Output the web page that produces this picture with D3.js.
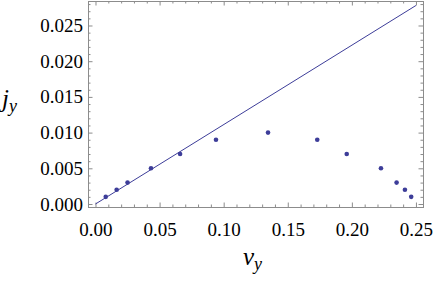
<!DOCTYPE html>
<html><head><meta charset="utf-8">
<script src="https://cdn.jsdelivr.net/npm/d3@7"></script>
</head><body style="margin:0">
<svg id="c" width="436" height="285" style="font-family:'Liberation Serif','Times New Roman',serif"></svg>
<script>
const vy = [0.008, 0.0165, 0.025, 0.0433, 0.066, 0.094, 0.1346, 0.173, 0.196, 0.2227, 0.2349, 0.2414, 0.2463];
const jy = [0.001, 0.002, 0.003, 0.005, 0.007, 0.009, 0.010, 0.009, 0.007, 0.005, 0.003, 0.002, 0.001];
const lineX = [0, 0.25];
const lineY = [0, 0.0278];
const xTicks = [0, 0.05, 0.10, 0.15, 0.20, 0.25];
const yTicks = [0, 0.005, 0.010, 0.015, 0.020, 0.025];

const svg = d3.select("#c");
const L = 88, R = 423, T = 1, B = 207;
const x = d3.scaleLinear().domain([-0.00585, 0.2555]).range([L, R]);
const y = d3.scaleLinear().domain([-0.00042, 0.02843]).range([B, T]);
const col = "#3d3d99", fr = "#8c8c8c";
const serifStack = "'Liberation Serif','Times New Roman',serif";

const xMinor = d3.range(0, 0.2551, 0.01).filter(v => !xTicks.some(t => Math.abs(t - v) < 1e-9));
const yMinor = d3.range(0, 0.02801, 0.001).filter(v => !yTicks.some(t => Math.abs(t - v) < 1e-9));

function ax(gen, tr, major, minor, labels) {
  const g = svg.append("g").attr("transform", tr);
  g.call(gen.tickValues(minor).tickSize(-2.5).tickFormat(""));
  const g2 = svg.append("g").attr("transform", tr);
  g2.call(gen.tickValues(major).tickSize(-4.5).tickFormat(labels ? (d => d) : ""));
  [g, g2].forEach(s => {
    s.attr("font-family", null).style("font-family", serifStack);
    s.selectAll("path").attr("stroke", fr).attr("stroke-width", 1);
    s.selectAll("line").attr("stroke", fr).attr("stroke-width", 1);
  });
  return g2;
}
const fx = d3.format(".2f"), fy = d3.format(".3f");
const gb = ax(d3.axisBottom(x), `translate(0,${B})`, xTicks, xMinor, true);
gb.selectAll("text").text(d => fx(d)).attr("y", 16).attr("dy", "0.71em");
ax(d3.axisTop(x), `translate(0,${T})`, xTicks, xMinor, false);
const gl = ax(d3.axisLeft(y), `translate(${L},0)`, yTicks, yMinor, true);
gl.selectAll("text").text(d => fy(d)).attr("x", -5);
ax(d3.axisRight(y), `translate(${R},0)`, yTicks, yMinor, false);
svg.selectAll("g text").style("font-family", serifStack).style("font-size", "19px").attr("fill", "#000");

svg.append("path")
  .datum(lineX.map((v, i) => [v, lineY[i]]))
  .attr("d", d3.line().x(d => x(d[0])).y(d => y(d[1])))
  .attr("stroke", col).attr("stroke-width", 1).attr("fill", "none");

svg.selectAll("circle.pt").data(vy).enter().append("circle")
  .attr("cx", d => x(d)).attr("cy", (d, i) => y(jy[i])).attr("r", 2.3).attr("fill", col);

const xl = svg.append("text").attr("x", 243).attr("y", 265)
  .style("font-family", serifStack).style("font-style", "italic").style("font-size", "25px");
xl.append("tspan").text("v");
xl.append("tspan").attr("dy", 5).style("font-size", "18px").text("y");

const yl = svg.append("text").attr("x", 2).attr("y", 107)
  .style("font-family", serifStack).style("font-style", "italic").style("font-size", "25px");
yl.append("tspan").text("j");
yl.append("tspan").attr("dy", 5).style("font-size", "18px").text("y");
</script>
</body></html>
